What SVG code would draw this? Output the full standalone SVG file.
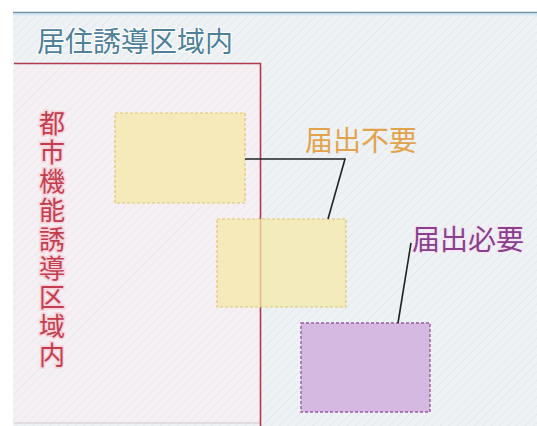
<svg xmlns="http://www.w3.org/2000/svg" width="537" height="426" viewBox="0 0 537 426">
<defs>
<pattern id="hatch" width="6" height="6" patternUnits="userSpaceOnUse" patternTransform="rotate(45)">
<rect width="6" height="6" fill="#eef2f5"/>
<line x1="0" y1="0" x2="0" y2="6" stroke="#e3e9ee" stroke-width="2"/>
</pattern>
<pattern id="hatchPink" width="6" height="6" patternUnits="userSpaceOnUse" patternTransform="rotate(45)">
<rect width="6" height="6" fill="#f5f0f3"/>
<line x1="0" y1="0" x2="0" y2="6" stroke="#efe8ec" stroke-width="2"/>
</pattern>
</defs>
<style>
.jp{font-family:"Noto Sans CJK JP","Noto Sans CJK SC",sans-serif;}
.title{font-size:28px;fill:#4e8199;paint-order:stroke;stroke:#ffffff;stroke-width:2;}
.vt{font-size:26px;fill:#c23e4e;writing-mode:vertical-rl;letter-spacing:3px;paint-order:stroke;stroke:#f8d3dc;stroke-width:3;}
.lbl1{font-size:28px;fill:#e2a34c;}
.lbl2{font-size:28px;fill:#8a3f8c;paint-order:stroke;stroke:#f6e4f4;stroke-width:2;}
.ybox{fill:#f6e8a8;fill-opacity:0.75;stroke:#dcc86e;stroke-width:1.2;stroke-dasharray:3 2;}
.pbox{fill:#d6b9e0;stroke:#9a5aa6;stroke-width:1.4;stroke-dasharray:3 2;}
.conn{fill:none;stroke:#222222;stroke-width:1.6;}
</style>
<rect width="537" height="426" fill="#ffffff"/>
<g id="panel">
<rect x="13" y="13" width="524" height="413" fill="url(#hatch)"/>
<line x1="13" y1="12.5" x2="537" y2="12.5" stroke="#6f93a3" stroke-width="1.5"/>
<line x1="13" y1="14.5" x2="537" y2="14.5" stroke="#cfe6f0" stroke-width="1.5"/>
<text class="jp title" x="37" y="52">居住誘導区域内</text>
</g>
<g id="toshi">
<rect x="14" y="63.5" width="246.5" height="359" fill="url(#hatchPink)"/>
<line x1="14" y1="423" x2="260.5" y2="423" stroke="#d8c7cf" stroke-width="1.2"/>
<path d="M14 63.5 H260.5 V426" fill="none" stroke="#b03a4c" stroke-width="1.6"/>
<text class="jp vt" x="52" y="110">都市機能誘導区域内</text>
</g>
<g id="box1"><rect class="ybox" x="115" y="113" width="130" height="90"/></g>
<g id="box2"><rect class="ybox" x="217" y="219" width="129" height="88"/></g>
<g id="box3"><rect class="pbox" x="301" y="323" width="129" height="89"/></g>
<g id="label-fudeyou"><text class="jp lbl1" x="305" y="151">届出不要</text></g>
<g id="label-hitsuyou"><text class="jp lbl2" x="412" y="250">届出必要</text></g>
<g id="connectors">
<path class="conn" d="M245 159 H345 L328 219"/>
<path class="conn" d="M398 323 L411 243"/>
</g>
</svg>
